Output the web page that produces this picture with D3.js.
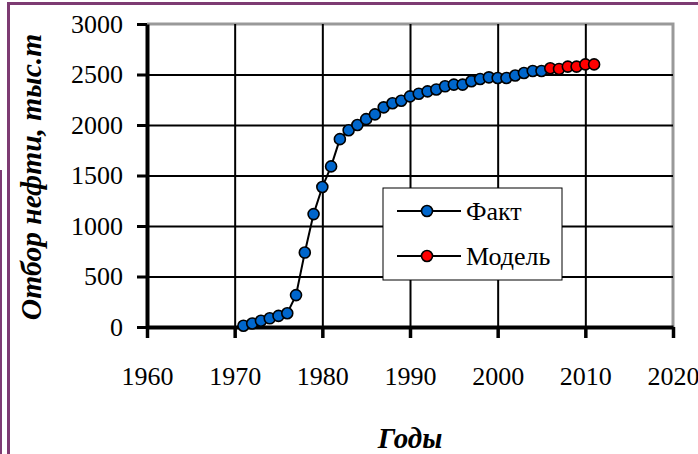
<!DOCTYPE html>
<html>
<head>
<meta charset="utf-8">
<script src="https://cdn.jsdelivr.net/npm/d3@7"></script>
<style>
  body { margin: 0; background: #fff; }
  svg { display: block; }
</style>
</head>
<body>
<div id="chart"></div>
<script>
// data
const factYears = [1971, 1972, 1973, 1974, 1975, 1976, 1977, 1978, 1979, 1980,
    1981, 1982, 1983, 1984, 1985, 1986, 1987, 1988, 1989, 1990,
    1991, 1992, 1993, 1994, 1995, 1996, 1997, 1998, 1999, 2000,
    2001, 2002, 2003, 2004, 2005];
const factValues = [12, 35, 62, 86, 110, 136, 316, 737, 1118, 1386,
    1590, 1860, 1948, 2000, 2058, 2105, 2175, 2215, 2240, 2283,
    2310, 2333, 2352, 2383, 2400, 2400, 2433, 2455, 2472, 2465,
    2465, 2490, 2515, 2535, 2535];
const modelYears = [2006, 2007, 2008, 2009, 2010, 2011];
const modelValues = [2562, 2555, 2578, 2578, 2600, 2600];

const xTicks = [1960, 1970, 1980, 1990, 2000, 2010, 2020];
const yTicks = [0, 500, 1000, 1500, 2000, 2500, 3000];

const seriesNames = ["Факт", "Модель"];
const seriesColors = ["#0066cc", "#ff0000"];

const width = 698, height = 454;
const serif = "'Liberation Serif', 'Times New Roman', serif";

const svg = d3.select("#chart").append("svg")
    .attr("width", width)
    .attr("height", height);

// outer purple frame
const frame = "#7d3b72";
svg.append("line").attr("x1", 8).attr("x2", width).attr("y1", 3.5).attr("y2", 3.5)
    .attr("stroke", frame).attr("stroke-width", 3);
svg.append("line").attr("x1", 8.5).attr("x2", 8.5).attr("y1", 2).attr("y2", height)
    .attr("stroke", frame).attr("stroke-width", 3);
svg.append("line").attr("x1", 1).attr("x2", 1).attr("y1", 170).attr("y2", height)
    .attr("stroke", frame).attr("stroke-width", 2);

const x = d3.scaleLinear().domain([1960, 2020]).range([147, 673]);
const y = d3.scaleLinear().domain([0, 3000]).range([327, 24]);

// plot border (gray top / right)
svg.append("path")
    .attr("d", `M${x(1960)},${y(3000)}H${x(2020)}V${y(0)}`)
    .attr("fill", "none")
    .attr("stroke", "#999")
    .attr("stroke-width", 3);

// gridlines
svg.append("g")
    .attr("transform", `translate(0,${y(0)})`)
    .call(d3.axisBottom(x).tickValues(xTicks.slice(1, -1)).tickSize(-(y(0) - y(3000))).tickFormat(""))
    .call(g => g.select(".domain").remove())
    .selectAll("line").attr("stroke", "#000").attr("stroke-width", 2);

svg.append("g")
    .attr("transform", `translate(${x(1960)},0)`)
    .call(d3.axisLeft(y).tickValues(yTicks.slice(1, -1)).tickSize(-(x(2020) - x(1960))).tickFormat(""))
    .call(g => g.select(".domain").remove())
    .selectAll("line").attr("stroke", "#000").attr("stroke-width", 2);

// y axis
const yAxis = svg.append("g")
    .attr("transform", `translate(${x(1960)},0)`)
    .call(d3.axisLeft(y).tickValues(yTicks).tickFormat(d3.format("d"))
        .tickSize(10).tickPadding(14).tickSizeOuter(0));
yAxis.select(".domain").attr("stroke", "#000").attr("stroke-width", 4);
yAxis.selectAll("line").attr("stroke", "#000").attr("stroke-width", 3);
yAxis.selectAll("text")
    .style("font-family", serif)
    .style("font-size", "26px")
    .attr("fill", "#000");

// x axis
const xAxis = svg.append("g")
    .attr("transform", `translate(0,${y(0)})`)
    .call(d3.axisBottom(x).tickValues(xTicks).tickFormat(d3.format("d"))
        .tickSize(11).tickPadding(29).tickSizeOuter(0));
xAxis.select(".domain").attr("stroke", "#000").attr("stroke-width", 4);
xAxis.selectAll("line").attr("stroke", "#000").attr("stroke-width", 3.5);
xAxis.selectAll("text")
    .style("font-family", serif)
    .style("font-size", "26px")
    .attr("fill", "#000");

// series line + markers
const fact = factYears.map((yr, i) => ({ year: yr, value: factValues[i] }));
const model = modelYears.map((yr, i) => ({ year: yr, value: modelValues[i] }));

const line = d3.line().x(d => x(d.year)).y(d => y(d.value));

svg.append("path")
    .datum(fact.concat(model))
    .attr("d", line)
    .attr("fill", "none")
    .attr("stroke", "#000")
    .attr("stroke-width", 2);

[fact, model].forEach((data, i) => {
    svg.append("g").selectAll("circle")
        .data(data)
        .enter()
        .append("circle")
        .attr("cx", d => x(d.year))
        .attr("cy", d => y(d.value))
        .attr("r", 5.5)
        .attr("fill", seriesColors[i])
        .attr("stroke", "#000")
        .attr("stroke-width", 1.6);
});

// legend
const legend = svg.append("g");
legend.append("rect")
    .attr("x", 383).attr("y", 188)
    .attr("width", 179).attr("height", 92)
    .attr("fill", "#fff")
    .attr("stroke", "#000")
    .attr("stroke-width", 1);

seriesNames.forEach((name, i) => {
    const ly = 211 + i * 45;
    legend.append("line")
        .attr("x1", 397).attr("x2", 461).attr("y1", ly).attr("y2", ly)
        .attr("stroke", "#000").attr("stroke-width", 2);
    legend.append("circle")
        .attr("cx", 427).attr("cy", ly).attr("r", 5.5)
        .attr("fill", seriesColors[i])
        .attr("stroke", "#000").attr("stroke-width", 1.6);
    legend.append("text")
        .attr("x", 466).attr("y", ly + 9)
        .style("font-family", serif)
        .style("font-size", "26px")
        .text(name);
});

// axis titles
svg.append("text")
    .attr("transform", "translate(41,177) rotate(-90)")
    .attr("text-anchor", "middle")
    .style("font-family", serif)
    .style("font-size", "29.5px")
    .style("font-weight", "bold")
    .style("font-style", "italic")
    .text("Отбор нефти, тыс.т");

svg.append("text")
    .attr("x", 410).attr("y", 448)
    .attr("text-anchor", "middle")
    .style("font-family", serif)
    .style("font-size", "29px")
    .style("font-weight", "bold")
    .style("font-style", "italic")
    .text("Годы");
</script>
</body>
</html>
